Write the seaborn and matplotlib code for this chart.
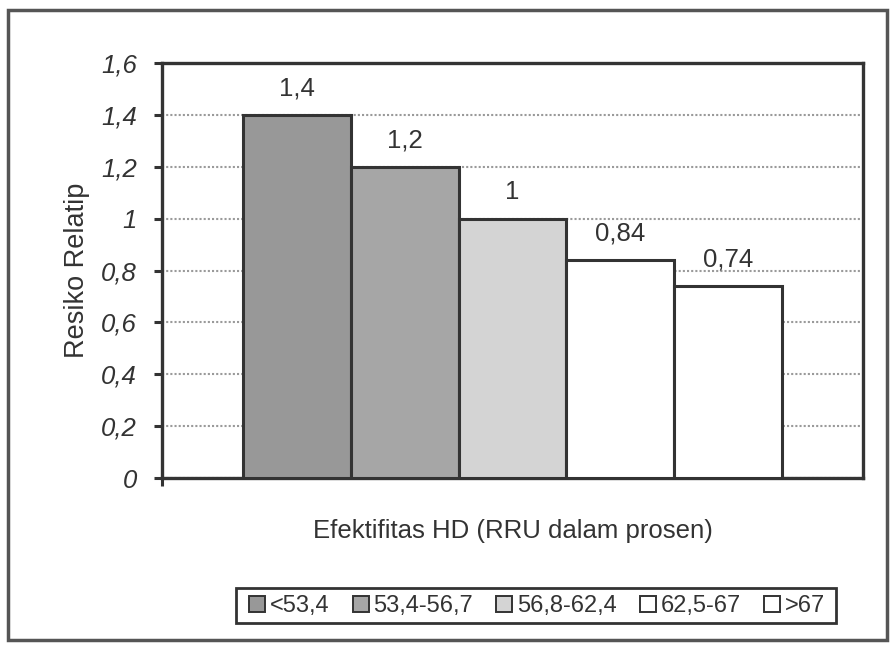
import matplotlib
matplotlib.use("Agg")
import matplotlib.pyplot as plt
import matplotlib.patches as mpatches
import seaborn as sns
import pandas as pd

# Relative risk by HD effectiveness (URR percentage) group
groups = ["<53,4", "53,4-56,7", "56,8-62,4", "62,5-67", ">67"]
risk = [1.4, 1.2, 1.0, 0.84, 0.74]
risk_labels = ["1,4", "1,2", "1", "0,84", "0,74"]
bar_colors = ["#989898", "#a6a6a6", "#d4d4d4", "#ffffff", "#ffffff"]
yticks = [0, 0.2, 0.4, 0.6, 0.8, 1.0, 1.2, 1.4, 1.6]
ytick_labels = ["0", "0,2", "0,4", "0,6", "0,8", "1", "1,2", "1,4", "1,6"]

df = pd.DataFrame({"kelompok": [""] * len(groups), "grup": groups, "risiko": risk})

sns.set_style("white")
plt.rcParams["font.family"] = ["Liberation Sans", "DejaVu Sans"]

W, H = 891, 648
fig = plt.figure(figsize=(W / 100, H / 100), dpi=100)
ax = fig.add_axes([162 / W, 1 - 478 / H, 701 / W, 415 / H])

sns.barplot(data=df, x="kelompok", y="risiko", hue="grup", hue_order=groups,
            palette=bar_colors, width=0.77, edgecolor="#333333", linewidth=2.2,
            saturation=1, legend=False, ax=ax, zorder=3)

for cont, lab in zip(ax.containers, risk_labels):
    ax.bar_label(cont, labels=[lab], padding=10.5, fontsize=18.5, color="#333333")

ax.set_ylim(0, 1.6)
ax.set_xlim(-0.5, 0.5)
ax.set_yticks(yticks)
ax.set_yticklabels(ytick_labels, fontsize=18.5, style="italic", color="#333333")
ax.set_xticks([-0.5])
ax.set_xticklabels([""])
ax.tick_params(axis="y", direction="out", length=6, width=2.2, color="#333333", left=True, pad=12)
ax.tick_params(axis="x", direction="out", length=6, width=2.2, color="#333333", bottom=True)
ax.yaxis.grid(True, color="#9a9a9a", linestyle=(0, (1, 1)), linewidth=1.5, zorder=0)
ax.set_axisbelow(True)
for sp in ax.spines.values():
    sp.set_visible(True)
    sp.set_color("#333333")
    sp.set_linewidth(2.4)

ax.set_xlabel("Efektifitas HD (RRU dalam prosen)", fontsize=18.5, color="#333333", labelpad=20)
ax.set_ylabel("Resiko Relatip", fontsize=19.5, color="#333333", labelpad=8)

# legend entries, with a separately drawn box around them
handles = [mpatches.Patch(facecolor=c, edgecolor="#333333", linewidth=1.4) for c in bar_colors]
leg = fig.legend(handles, groups, loc="center", bbox_to_anchor=(537 / W, 1 - 606 / H),
                 ncol=5, fontsize=17, frameon=False,
                 handlelength=0.68, handleheight=0.68, handletextpad=0.2, columnspacing=0.98,
                 borderpad=0, borderaxespad=0)
for t in leg.get_texts():
    t.set_color("#333333")
fig.patches.append(mpatches.Rectangle((236 / W, 1 - 623 / H), 600 / W, 35 / H,
                                      transform=fig.transFigure, fill=False,
                                      edgecolor="#333333", linewidth=2))

# outer chart frame
fig.patches.append(mpatches.Rectangle((8 / W, 1 - 640 / H), 879 / W, 630 / H,
                                      transform=fig.transFigure, fill=False,
                                      edgecolor="#555555", linewidth=2.5))

fig.savefig("out.png", dpi=100)
